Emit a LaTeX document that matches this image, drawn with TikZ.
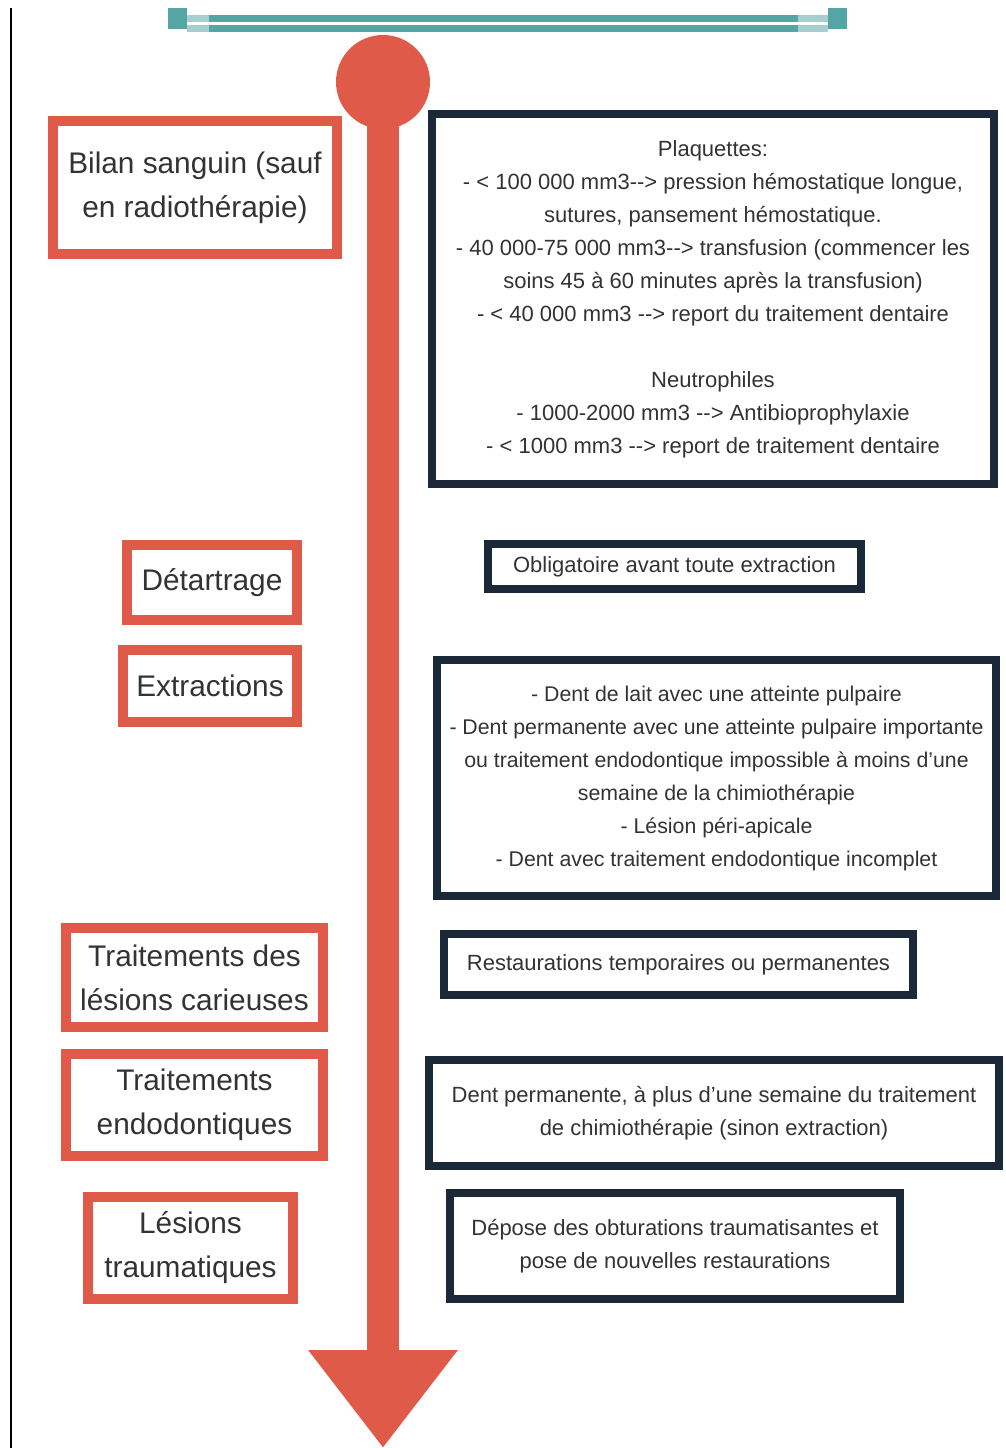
\documentclass[tikz,border=0pt]{standalone}
\usepackage{fontspec}
\setmainfont{Liberation Sans}
\usetikzlibrary{arrows.meta}
\definecolor{tomato}{HTML}{E05A4A}
\definecolor{navy}{HTML}{1B2838}
\definecolor{sea}{HTML}{56A5A5}
\definecolor{sealight}{HTML}{A8CFCF}
\definecolor{ink}{HTML}{333333}
\tikzstyle{redbox}=[draw=tomato,line width=10pt,fill=white,text=ink,align=center,inner sep=0pt,font=\fontsize{29.8}{44}\selectfont]
\tikzstyle{navybox}=[draw=navy,line width=8pt,fill=white,text=ink,align=center,inner sep=0pt,font=\fontsize{22}{33}\selectfont]
\begin{document}
\begin{tikzpicture}[x=1pt,y=-1pt]
\useasboundingbox (0,0) rectangle (1005,1448);
% frame and top bar
\draw[line width=2pt] (11,8) -- (11,1448);
\foreach \y in {18.5,28.5} {
\draw[sealight,line width=7pt] (187,\y) -- (828,\y);
\draw[sea,line width=7pt] (209,\y) -- (798,\y);
}
\fill[sea] (168,8) rectangle (187,29);
\fill[sea] (828,8) rectangle (847,29);
% timeline
\node[circle,fill=tomato,minimum size=94pt,inner sep=0pt] (O) at (383,82) {};
\coordinate (T) at (383,1448);
\draw[tomato,line width=32pt,-{Triangle[width=143pt,length=98pt]}] (O.center) -- (T);
% steps
\node[redbox,minimum width=284pt,minimum height=133pt] (B) at (195,187.5) {Bilan sanguin (sauf\\en radiothérapie)};
\node[redbox,minimum width=170pt,minimum height=75pt] (D) at (212,582.5) {Détartrage};
\node[redbox,minimum width=174pt,minimum height=72pt] (X) at (210,686) {Extractions};
\node[redbox,minimum width=257pt,minimum height=99pt] (C) at (194.5,977.5) {Traitements des\\lésions carieuses};
\node[redbox,minimum width=257pt,minimum height=102pt] (E) at (194.5,1105) {Traitements\\endodontiques};
\node[redbox,minimum width=205pt,minimum height=102pt] (L) at (190.5,1248) {Lésions\\traumatiques};
% details
\node[navybox,minimum width=562pt,minimum height=370pt] (B') at (713,299) {Plaquettes:\\
- < 100 000 mm3-{}-{}> pression hémostatique longue,\\
sutures, pansement hémostatique.\\
- 40 000-75 000 mm3-{}-{}> transfusion (commencer les\\
soins 45 à 60 minutes après la transfusion)\\
- < 40 000 mm3 -{}-{}> report du traitement dentaire\\[33pt]
Neutrophiles\\
- 1000-2000 mm3 -{}-{}> Antibioprophylaxie\\
- < 1000 mm3 -{}-{}> report de traitement dentaire};
\node[navybox,minimum width=373pt,minimum height=45pt] (D') at (674.5,566.5) {Obligatoire avant toute extraction};
\node[navybox,minimum width=559pt,minimum height=236pt,font=\fontsize{21.3}{33}\selectfont] (X') at (716.5,778) {- Dent de lait avec une atteinte pulpaire\\
- Dent permanente avec une atteinte pulpaire importante\\
ou traitement endodontique impossible à moins d'une\\
semaine de la chimiothérapie\\
- Lésion péri-apicale\\
- Dent avec traitement endodontique incomplet};
\node[navybox,minimum width=469pt,minimum height=61pt] (C') at (678.5,964.5) {Restaurations temporaires ou permanentes};
\node[navybox,minimum width=570pt,minimum height=106pt] (E') at (714,1113) {Dent permanente, à plus d'une semaine du traitement\\
de chimiothérapie (sinon extraction)};
\node[navybox,minimum width=450pt,minimum height=106pt] (L') at (675,1246) {Dépose des obturations traumatisantes et\\
pose de nouvelles restaurations};
\end{tikzpicture}
\end{document}
